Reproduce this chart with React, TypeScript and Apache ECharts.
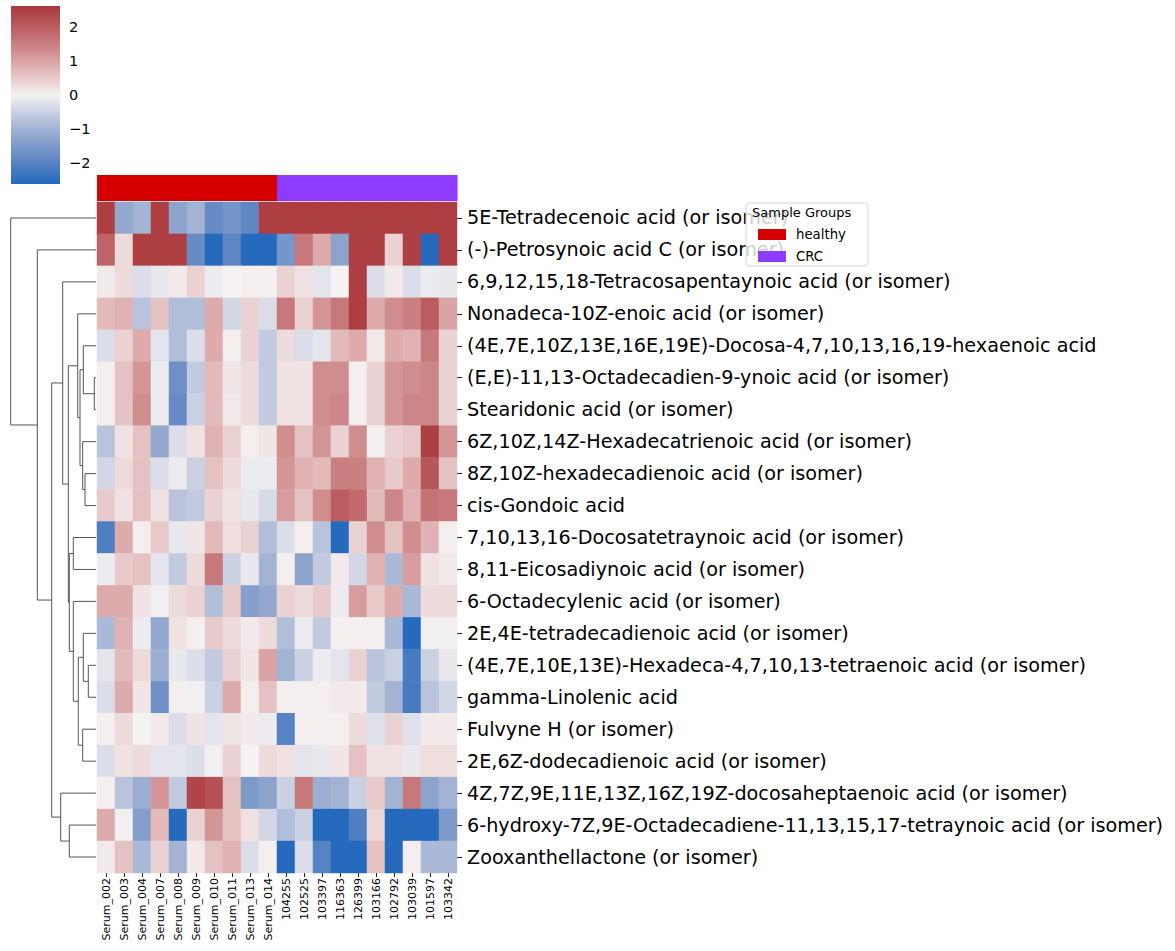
import React, { useEffect, useRef } from 'react';
import * as echarts from 'echarts';

const FONT = 'DejaVu Sans';

const rowLabels = [
  '5E-Tetradecenoic acid (or isomer)',
  '(-)-Petrosynoic acid C (or isomer)',
  '6,9,12,15,18-Tetracosapentaynoic acid (or isomer)',
  'Nonadeca-10Z-enoic acid (or isomer)',
  '(4E,7E,10Z,13E,16E,19E)-Docosa-4,7,10,13,16,19-hexaenoic acid',
  '(E,E)-11,13-Octadecadien-9-ynoic acid (or isomer)',
  'Stearidonic acid (or isomer)',
  '6Z,10Z,14Z-Hexadecatrienoic acid (or isomer)',
  '8Z,10Z-hexadecadienoic acid (or isomer)',
  'cis-Gondoic acid',
  '7,10,13,16-Docosatetraynoic acid (or isomer)',
  '8,11-Eicosadiynoic acid (or isomer)',
  '6-Octadecylenic acid (or isomer)',
  '2E,4E-tetradecadienoic acid (or isomer)',
  '(4E,7E,10E,13E)-Hexadeca-4,7,10,13-tetraenoic acid (or isomer)',
  'gamma-Linolenic acid',
  'Fulvyne H (or isomer)',
  '2E,6Z-dodecadienoic acid (or isomer)',
  '4Z,7Z,9E,11E,13Z,16Z,19Z-docosaheptaenoic acid (or isomer)',
  '6-hydroxy-7Z,9E-Octadecadiene-11,13,15,17-tetraynoic acid (or isomer)',
  'Zooxanthellactone (or isomer)',
];

const sampleLabels = [
  'Serum_002', 'Serum_003', 'Serum_004', 'Serum_007', 'Serum_008',
  'Serum_009', 'Serum_010', 'Serum_011', 'Serum_013', 'Serum_014',
  '104255', '102525', '103397', '116363', '126399',
  '103166', '102792', '103039', '101597', '103342',
];

const sampleGroups = [
  'healthy', 'healthy', 'healthy', 'healthy', 'healthy',
  'healthy', 'healthy', 'healthy', 'healthy', 'healthy',
  'CRC', 'CRC', 'CRC', 'CRC', 'CRC',
  'CRC', 'CRC', 'CRC', 'CRC', 'CRC',
];

const groupNames = ['healthy', 'CRC'];
const groupColors = ['#d60000', '#8c3bff'];

// z-scored intensities, one row per compound (row order as displayed)
const zScores: number[][] = [
  [2.5, -1.2, -1.0, 2.5, -1.3, -1.0, -1.8, -1.6, -1.9, 2.5, 2.5, 2.5, 2.5, 2.5, 2.5, 2.5, 2.5, 2.5, 2.5, 2.5],
  [1.9, 0.3, 2.5, 2.5, 2.5, -1.8, -2.6, -1.9, -2.6, -2.6, -1.6, 1.6, 0.9, -1.3, 2.5, 2.5, 0.4, 2.5, -2.6, 2.5],
  [0.1, 0.3, -0.3, -0.15, 0.1, 0.4, -0.1, 0.0, 0.05, 0.05, 0.4, 0.2, -0.2, 0.0, 2.5, -0.3, 0.1, -0.3, -0.1, -0.15],
  [0.7, 0.8, -0.7, 0.6, -0.8, -0.8, 0.9, -0.4, 0.4, -0.3, 1.6, 0.4, 1.2, 1.6, 2.5, 0.9, 1.3, 1.5, 2.0, 1.0],
  [-0.3, 0.4, 0.9, -0.2, -0.8, -0.3, 0.9, 0.05, 0.4, -0.6, 0.3, -0.3, -0.2, 0.7, 0.9, 0.1, 0.9, 0.8, 1.6, 0.4],
  [0.05, 0.6, 1.2, -0.1, -1.7, -0.6, 0.7, 0.15, 0.3, -0.6, 0.2, 0.2, 1.3, 1.3, 0.05, 0.4, 1.2, 1.3, 1.4, 0.4],
  [0.05, 0.6, 1.3, -0.1, -1.8, -0.5, 0.7, 0.1, 0.3, -0.6, 0.2, 0.2, 1.3, 1.4, 0.05, 0.4, 1.2, 1.4, 1.4, 0.4],
  [-0.7, 0.2, 0.6, -1.2, -0.3, 0.2, 0.8, 0.4, 0.05, 0.15, 1.3, 0.6, 1.2, 0.4, 1.3, -0.05, 0.4, 0.5, 2.5, 1.2],
  [-0.4, 0.3, 0.6, -0.3, -0.1, -0.5, 0.6, 0.3, -0.1, -0.1, 1.2, 0.8, 0.7, 1.5, 1.5, 0.8, 0.5, 0.9, 2.1, 0.6],
  [0.5, 0.2, 0.6, 0.2, -0.7, -0.6, 0.4, 0.2, -0.15, -0.35, 1.1, 0.6, 1.3, 2.0, 1.8, 0.7, 1.4, 0.8, 1.7, 1.6],
  [-2.1, 0.9, 0.05, 0.5, -0.15, 0.15, 0.7, 0.25, 0.4, -0.8, -0.3, 0.05, -0.7, -2.6, 0.4, 1.3, 0.6, 1.3, 0.8, 0.05],
  [-0.1, 0.5, 0.6, -0.2, -0.6, 0.3, 1.6, -0.5, -0.15, -1.0, 0.05, -1.3, -0.6, 0.1, -0.4, 0.8, -0.9, 1.1, 0.2, 0.1],
  [0.9, 0.9, 0.2, -0.05, 0.3, 0.4, -0.8, 0.5, -1.4, -1.2, 0.4, 0.3, 0.5, -0.1, 1.1, 0.5, 0.9, -0.9, 0.3, 0.3],
  [-0.9, 0.8, -0.1, -1.2, 0.2, 0.05, 0.5, 0.3, 0.1, 0.3, -0.8, -0.1, -0.6, 0.05, 0.05, 0.05, -0.9, -2.6, -0.05, -0.05],
  [-0.2, 0.7, 0.3, -1.1, -0.15, -0.3, -0.6, 0.4, 0.15, 1.0, -1.0, -0.5, -0.1, -0.2, 0.4, -0.7, -0.5, -2.2, -0.5, -0.15],
  [-0.3, 0.9, 0.15, -1.7, 0.05, -0.05, -0.5, 0.9, 0.05, 0.6, 0.05, 0.05, 0.05, 0.1, 0.1, -0.6, -1.0, -2.2, -0.7, -0.4],
  [0.05, 0.3, 0.0, 0.1, -0.3, 0.2, -0.2, 0.15, 0.1, -0.1, -2.0, 0.05, 0.05, 0.05, 0.3, -0.25, 0.4, -0.25, 0.1, 0.1],
  [-0.3, 0.2, 0.3, -0.2, -0.2, -0.3, -0.05, 0.4, 0.0, 0.3, 0.2, -0.2, -0.15, 0.15, 0.6, 0.2, 0.2, -0.15, 0.25, 0.25],
  [0.05, -0.7, -1.1, 1.2, -0.6, 2.4, 2.2, 0.6, -1.5, -1.3, -0.5, 1.6, -1.1, -1.0, -0.5, 0.5, -1.0, 1.6, -1.3, -1.0],
  [0.9, -0.05, -1.4, 0.7, -2.6, 0.4, 1.2, 0.6, 0.2, -0.4, -0.8, -0.5, -2.6, -2.6, -2.1, 0.35, -2.6, -2.6, -2.6, -1.5],
  [0.1, 0.6, -0.9, 0.4, -1.0, 0.1, 0.6, 0.8, -0.3, 0.05, -2.6, -0.3, -2.0, -2.6, -2.6, 0.6, -2.6, 0.05, -0.9, -0.9],
];

// Row linkage (scipy style): [childA, childB, height]; leaves 0..20, new nodes from 21
const rowLinkage: [number, number, number][] = [
  [5, 6, 1.7],
  [4, 21, 12.7],
  [8, 9, 11],
  [7, 23, 13.3],
  [22, 24, 16],
  [3, 25, 18.3],
  [10, 11, 22.7],
  [14, 15, 7.7],
  [13, 28, 12.7],
  [16, 17, 13.3],
  [29, 30, 17.7],
  [12, 31, 22.7],
  [27, 32, 26.7],
  [26, 33, 27.7],
  [2, 34, 33.3],
  [19, 20, 26.7],
  [18, 36, 35.3],
  [35, 37, 44.3],
  [1, 38, 58.7],
  [0, 39, 85.3],
];

const colorMin = -2.63;
const colorMax = 2.63;
const colorbarTicks = [-2, -1, 0, 1, 2];
const vlagColors = [
  '#2369bd', '#5a84c3', '#8ba2cc', '#bcc6dd', '#f5f2f2',
  '#e4bdbd', '#d08c8d', '#bc5f62', '#a9373b',
];

export default function App() {
  const ref = useRef<HTMLDivElement>(null);

  useEffect(() => {
    if (!ref.current) return;
    const chart = echarts.init(ref.current, undefined, { renderer: 'svg' });

    const heatData: number[][] = [];
    zScores.forEach((row, r) => {
      row.forEach((v, c) => {
        heatData.push([c, r, Math.max(colorMin, Math.min(colorMax, v))]);
      });
    });

    // dendrogram geometry from linkage
    const nLeaves = rowLabels.length;
    const nodeY: number[] = [];
    const nodeH: number[] = [];
    for (let i = 0; i < nLeaves; i++) { nodeY[i] = i; nodeH[i] = 0; }
    const dendroData: number[][] = [];
    rowLinkage.forEach(([a, b, h], k) => {
      const id = nLeaves + k;
      nodeY[id] = (nodeY[a] + nodeY[b]) / 2;
      nodeH[id] = h;
      dendroData.push([nodeH[a], nodeY[a], h, nodeY[b], nodeH[b]]);
    });

    const groupSeries = groupNames.map((g, gi) => ({
      type: 'custom',
      name: g,
      xAxisIndex: 1,
      yAxisIndex: 1,
      itemStyle: { color: groupColors[gi] },
      encode: { x: 0, y: 1 },
      data: sampleGroups.map((sg, i) => (sg === g ? [i, 0] : null)).filter((d) => d !== null),
      renderItem: (params: any, api: any) => {
        const p = api.coord([api.value(0), api.value(1)]);
        const s = api.size([1, 1]);
        return {
          type: 'rect',
          shape: { x: p[0] - s[0] / 2, y: p[1] - s[1] / 2, width: s[0] + 0.6, height: s[1] },
          style: { fill: groupColors[gi] },
        };
      },
      silent: true,
    }));

    const minusFmt = (v: number) => (v < 0 ? '\u2212' + Math.abs(v) : String(v));

    const option: any = {
      animation: false,
      backgroundColor: '#ffffff',
      textStyle: { fontFamily: FONT },
      grid: [
        { left: 97, top: 202, width: 360, height: 671 },
        { left: 97, top: 175, width: 360, height: 26 },
        { left: 0, top: 202, width: 96, height: 671 },
        { left: 11, top: 6, width: 49, height: 178 },
      ],
      xAxis: [
        {
          type: 'category', gridIndex: 0, data: sampleLabels, position: 'bottom',
          axisLine: { show: false },
          axisTick: { show: true, alignWithLabel: true, length: 4, lineStyle: { color: '#222' } },
          axisLabel: { rotate: 90, fontSize: 11, color: '#000', margin: 5, interval: 0, fontFamily: FONT },
          splitLine: { show: false },
        },
        { type: 'category', gridIndex: 1, data: sampleLabels, show: false },
        { type: 'value', gridIndex: 2, min: 0, max: 96, inverse: true, show: false, splitLine: { show: false } },
        { type: 'value', gridIndex: 3, min: 0, max: 1, show: false, splitLine: { show: false } },
      ],
      yAxis: [
        {
          type: 'category', gridIndex: 0, data: rowLabels, inverse: true, position: 'right',
          axisLine: { show: false },
          axisTick: { show: true, alignWithLabel: true, length: 5, lineStyle: { color: '#222' } },
          axisLabel: { fontSize: 19.2, color: '#000', margin: 10, interval: 0, fontFamily: FONT },
          splitLine: { show: false },
        },
        { type: 'category', gridIndex: 1, data: ['group'], show: false },
        { type: 'value', gridIndex: 2, min: -0.5, max: nLeaves - 0.5, inverse: true, show: false, splitLine: { show: false } },
        {
          type: 'value', gridIndex: 3, min: colorMin, max: colorMax, position: 'right',
          axisLine: { show: false },
          splitLine: { show: false },
          axisTick: { show: true, length: 4, customValues: colorbarTicks, lineStyle: { color: '#222' } },
          axisLabel: { show: true, customValues: colorbarTicks, formatter: minusFmt, fontSize: 14.5, color: '#000', margin: 9, fontFamily: FONT },
        },
      ],
      visualMap: {
        type: 'continuous', show: false, seriesIndex: 0, min: colorMin, max: colorMax,
        inRange: { color: vlagColors },
      },
      legend: {
        data: groupNames,
        orient: 'vertical',
        left: 758,
        top: 227,
        padding: 0,
        itemWidth: 28,
        itemHeight: 11,
        itemGap: 7,
        icon: 'rect',
        selectedMode: false,
        z: 20,
        textStyle: { fontSize: 13.3, color: '#000', lineHeight: 15, fontFamily: FONT, padding: [0, 0, 0, 5] },
      },
      graphic: [
        {
          type: 'rect', z: 15,
          shape: { x: 746, y: 203, width: 122, height: 63, r: 3 },
          style: { fill: 'rgba(255,255,255,0.8)', stroke: '#d4d4d4', lineWidth: 1 },
        },
        {
          type: 'text', z: 16, x: 752, y: 206,
          style: { text: 'Sample Groups', fontSize: 13, fontFamily: FONT, fill: '#000' },
        },
      ],
      series: [
        {
          type: 'heatmap', xAxisIndex: 0, yAxisIndex: 0, data: heatData,
          itemStyle: { borderWidth: 0 },
          emphasis: { disabled: true },
          silent: true,
        },
        ...groupSeries,
        {
          type: 'custom', name: 'dendrogram', xAxisIndex: 2, yAxisIndex: 2,
          data: dendroData,
          encode: { x: [0, 2, 4], y: [1, 3] },
          silent: true,
          renderItem: (params: any, api: any) => {
            const ha = api.value(0), ya = api.value(1), h = api.value(2), yb = api.value(3), hb = api.value(4);
            const pts = [api.coord([ha, ya]), api.coord([h, ya]), api.coord([h, yb]), api.coord([hb, yb])];
            return {
              type: 'polyline',
              shape: { points: pts },
              style: { stroke: '#555', lineWidth: 1, fill: 'none' },
            };
          },
        },
        {
          type: 'custom', name: 'colorbar', xAxisIndex: 3, yAxisIndex: 3,
          data: [[0, colorMin, 1, colorMax]],
          encode: { x: [0, 2], y: [1, 3] },
          silent: true,
          renderItem: (params: any, api: any) => {
            const p0 = api.coord([api.value(0), api.value(3)]);
            const p1 = api.coord([api.value(2), api.value(1)]);
            const stops = vlagColors.map((c, i) => ({ offset: i / (vlagColors.length - 1), color: c }));
            return {
              type: 'rect',
              shape: { x: p0[0], y: p0[1], width: p1[0] - p0[0], height: p1[1] - p0[1] },
              style: { fill: new echarts.graphic.LinearGradient(0, 1, 0, 0, stops) },
            };
          },
        },
      ],
    };

    chart.setOption(option);
    return () => chart.dispose();
  }, []);

  return (
    <div
      ref={ref}
      style={{ position: 'absolute', left: 0, top: 0, width: 1175, height: 951, background: '#fff' }}
    />
  );
}
